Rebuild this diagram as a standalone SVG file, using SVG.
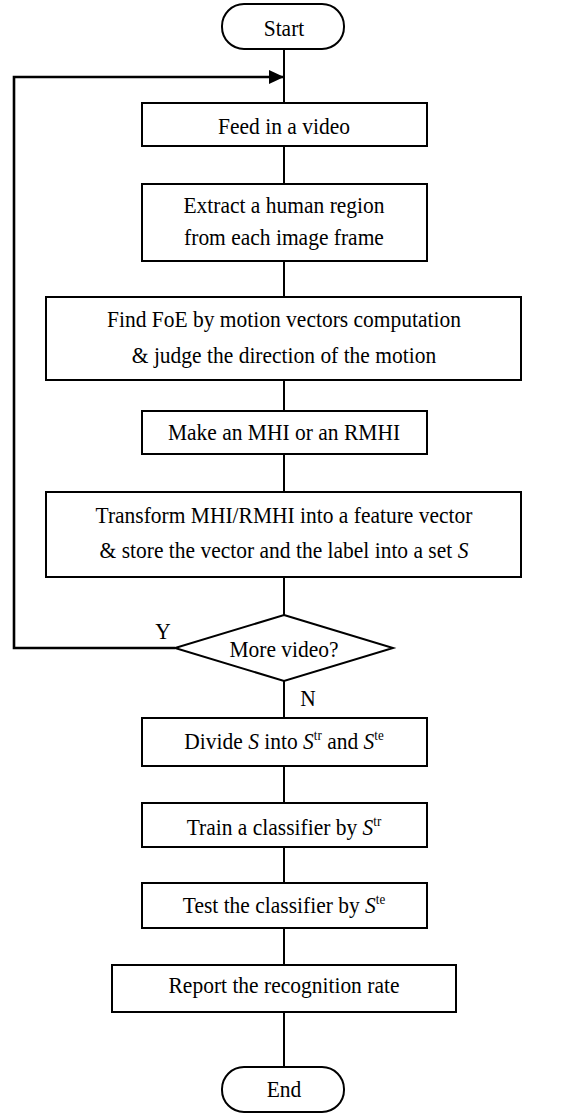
<svg xmlns="http://www.w3.org/2000/svg" width="572" height="1113" viewBox="0 0 572 1113">
<style>
.box{fill:#fff;stroke:#000;stroke-width:2}
.ln{fill:none;stroke:#000;stroke-width:2}
.loop{fill:none;stroke:#000;stroke-width:2.6}
text{font-family:"Liberation Serif","Times New Roman",serif;font-size:21.5px;fill:#000;text-anchor:middle}
.i{font-style:italic}
.sup{font-size:13px}
</style>
<defs>
<marker id="ah" markerWidth="16" markerHeight="14" refX="15" refY="7" orient="auto" markerUnits="userSpaceOnUse">
<path d="M0,0 L15,7 L0,14 Z" fill="#000"/>
</marker>
</defs>
<rect width="572" height="1113" fill="#fff"/>
<g id="connectors">
<line class="ln" x1="284" y1="49" x2="284" y2="103"/>
<line class="ln" x1="284" y1="146" x2="284" y2="184"/>
<line class="ln" x1="284" y1="261" x2="284" y2="297"/>
<line class="ln" x1="284" y1="380" x2="284" y2="411"/>
<line class="ln" x1="284" y1="454" x2="284" y2="492"/>
<line class="ln" x1="284" y1="577" x2="284" y2="615"/>
<line class="ln" x1="284" y1="681" x2="284" y2="718"/>
<line class="ln" x1="284" y1="766" x2="284" y2="803"/>
<line class="ln" x1="284" y1="847" x2="284" y2="883"/>
<line class="ln" x1="284" y1="928" x2="284" y2="965"/>
<line class="ln" x1="284" y1="1012" x2="284" y2="1067"/>
<polyline class="loop" points="175,648 14,648 14,77 284,77" marker-end="url(#ah)"/>
<text x="163" y="0" transform="translate(0,639) scale(1,1.12)">Y</text>
<text x="308" y="0" transform="translate(0,706) scale(1,1.12)">N</text>
</g>
<g id="start">
<rect class="box" x="222" y="4" width="122" height="45" rx="22" ry="22"/>
<text x="284" y="0" transform="translate(0,36) scale(1,1.12)">Start</text>
</g>
<g id="feed">
<rect class="box" x="142" y="103" width="285" height="43"/>
<text x="284" y="0" transform="translate(0,134) scale(1,1.12)">Feed in a video</text>
</g>
<g id="extract">
<rect class="box" x="142" y="184" width="285" height="77"/>
<text x="284" y="0" transform="translate(0,213) scale(1,1.12)">Extract a human region</text>
<text x="284" y="0" transform="translate(0,245) scale(1,1.12)">from each image frame</text>
</g>
<g id="foe">
<rect class="box" x="46" y="297" width="475" height="83"/>
<text x="284" y="0" transform="translate(0,327) scale(1,1.12)">Find FoE by motion vectors computation</text>
<text x="284" y="0" transform="translate(0,363) scale(1,1.12)">&amp; judge the direction of the motion</text>
</g>
<g id="mhi">
<rect class="box" x="142" y="411" width="285" height="43"/>
<text x="284" y="0" transform="translate(0,440) scale(1,1.12)">Make an MHI or an RMHI</text>
</g>
<g id="transform">
<rect class="box" x="46" y="492" width="475" height="85"/>
<text x="284" y="0" transform="translate(0,523) scale(1,1.12)">Transform MHI/RMHI into a feature vector</text>
<text x="284" y="0" transform="translate(0,558) scale(1,1.12)">&amp; store the vector and the label into a set <tspan class="i">S</tspan></text>
</g>
<g id="more">
<polygon class="box" points="284,615 393,648 284,681 175,648"/>
<text x="284" y="0" transform="translate(0,657) scale(1,1.12)">More video?</text>
</g>
<g id="divide">
<rect class="box" x="142" y="718" width="285" height="48"/>
<text x="284" y="0" transform="translate(0,749) scale(1,1.12)">Divide <tspan class="i">S</tspan> into <tspan class="i">S</tspan><tspan class="sup" dy="-8">tr</tspan><tspan dy="8"> and </tspan><tspan class="i">S</tspan><tspan class="sup" dy="-8">te</tspan></text>
</g>
<g id="train">
<rect class="box" x="142" y="803" width="285" height="44"/>
<text x="284" y="0" transform="translate(0,835) scale(1,1.12)">Train a classifier by <tspan class="i">S</tspan><tspan class="sup" dy="-8">tr</tspan></text>
</g>
<g id="test">
<rect class="box" x="142" y="883" width="285" height="45"/>
<text x="284" y="0" transform="translate(0,913) scale(1,1.12)">Test the classifier by <tspan class="i">S</tspan><tspan class="sup" dy="-8">te</tspan></text>
</g>
<g id="report">
<rect class="box" x="112" y="965" width="344" height="47"/>
<text x="284" y="0" transform="translate(0,993) scale(1,1.12)">Report the recognition rate</text>
</g>
<g id="end">
<rect class="box" x="222" y="1067" width="122" height="45" rx="22" ry="22"/>
<text x="284" y="0" transform="translate(0,1097) scale(1,1.12)">End</text>
</g>
</svg>
